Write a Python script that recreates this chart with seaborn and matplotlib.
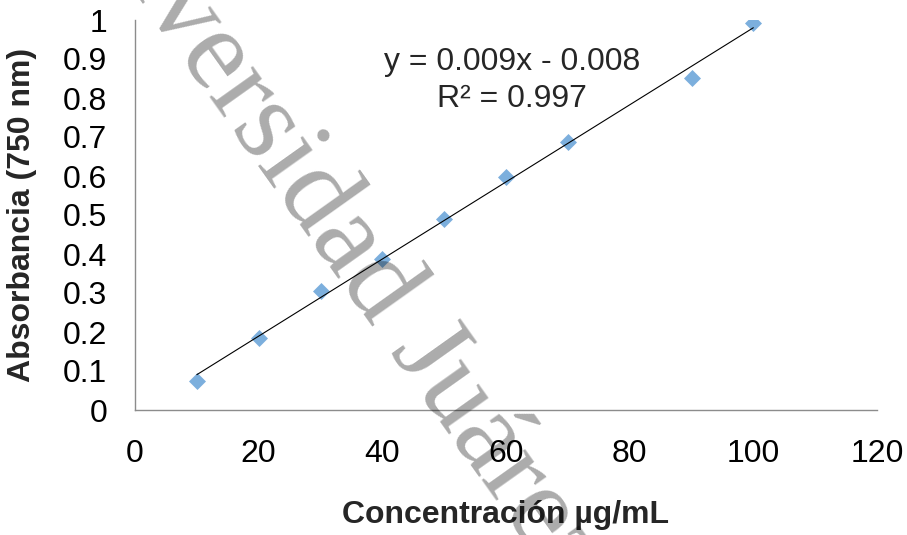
import matplotlib
matplotlib.use("Agg")
import matplotlib.pyplot as plt
import numpy as np
import pandas as pd
import seaborn as sns

# datos de la curva de calibración
concentracion = [10, 20, 30, 40, 50, 60, 70, 90, 100]
absorbancia = [0.075, 0.185, 0.305, 0.388, 0.490, 0.597, 0.688, 0.851, 0.992]
x_ticks = [0, 20, 40, 60, 80, 100, 120]
y_ticks = [0, 0.1, 0.2, 0.3, 0.4, 0.5, 0.6, 0.7, 0.8, 0.9, 1]
ecuacion = "y = 0.009x - 0.008"
r2 = "R² = 0.997"
marca_agua = "Universidad Juárez"

df = pd.DataFrame({"conc": concentracion, "abs": absorbancia})

sns.set_style("white")
plt.rcParams["font.family"] = ["Liberation Sans", "DejaVu Sans"]

fig = plt.figure(figsize=(9.07, 5.35), dpi=100)
ax = fig.add_axes([135 / 907, 1 - 410 / 535, 742 / 907, 390 / 535])

sns.regplot(data=df, x="conc", y="abs", ax=ax, ci=None, marker="D",
            color="#5B9BD5",
            scatter_kws={"s": 75, "linewidths": 0, "color": "#5B9BD5", "zorder": 3},
            line_kws={"color": "black", "linewidth": 0.8, "zorder": 4})

ax.set_xlim(0, 120)
ax.set_ylim(0, 1)
ax.set_xticks(x_ticks)
ax.set_yticks(y_ticks)
ax.set_xticklabels([str(t) for t in x_ticks])
ax.set_yticklabels(["0" if t == 0 else ("1" if t == 1 else f"{t:.1f}") for t in y_ticks])
ax.tick_params(axis="both", length=0, labelsize=23, colors="black")
ax.tick_params(axis="y", pad=20)
ax.tick_params(axis="x", pad=21)

for s in ["top", "right"]:
    ax.spines[s].set_visible(False)
for s in ["left", "bottom"]:
    ax.spines[s].set_color("#8c8c8c")
    ax.spines[s].set_linewidth(1.0)

ax.set_xlabel("Concentración µg/mL", fontsize=23, fontweight="bold")
ax.set_ylabel("Absorbancia (750 nm)", fontsize=23, fontweight="bold")
ax.xaxis.set_label_coords(0.5, -0.232)
ax.yaxis.set_label_coords(-0.132, 0.5)

ax.text(0.508, 0.892, ecuacion, transform=ax.transAxes, ha="center", va="center", fontsize=23)
ax.text(0.508, 0.798, r2, transform=ax.transAxes, ha="center", va="center", fontsize=23)

# marca de agua
fig.text(42 / 907, 1 + 138 / 535, marca_agua, fontsize=84, color="black", alpha=0.33,
         family=["Liberation Serif", "DejaVu Serif"],
         rotation=-54.6, rotation_mode="anchor", ha="left", va="baseline", zorder=10)

fig.savefig("out.png", dpi=100)
